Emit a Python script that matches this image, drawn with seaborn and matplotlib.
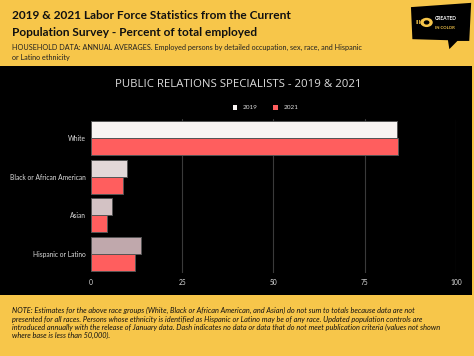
import matplotlib
matplotlib.use("Agg")
import matplotlib.pyplot as plt
import numpy as np
import pandas as pd
import seaborn as sns
from matplotlib.patches import Rectangle, Polygon, Circle

# ── data (percent of total employed, public relations specialists) ───────────
CATEGORIES = ["White", "Black or African American", "Asian", "Hispanic or Latino"]
YEARS = ["2019", "2021"]
VALUES_2019 = [83.9, 9.9, 5.8, 13.6]
VALUES_2021 = [84.0, 8.9, 4.5, 12.0]
X_TICKS = [0, 25, 50, 75, 100]

# ── colours ───────────────────────────────────────────────────────────────────
YELLOW = "#F7C64A"
BLACK = "#000000"
RED = "#FF5E5E"
SHADES_2019 = ["#F8F4F2", "#E2D8D8", "#D3C2C4", "#C0A8AC"]
GRID = "#3a3a3a"
TXT = "#DDDDDD"

sns.set_theme(style="dark")
plt.rcParams["font.family"] = ["Lato", "DejaVu Sans"]

df = pd.DataFrame({
    "group": CATEGORIES * 2,
    "year": [YEARS[0]] * len(CATEGORIES) + [YEARS[1]] * len(CATEGORIES),
    "value": VALUES_2019 + VALUES_2021,
})

fig = plt.figure(figsize=(4.74, 3.56), dpi=100)
fig.patch.set_facecolor(YELLOW)

# black chart panel (behind the axes)
fig.patches.append(Rectangle((0, 0.171), 0.996, 0.643, transform=fig.transFigure,
                             facecolor=BLACK, edgecolor="none", zorder=-5))

ax = fig.add_axes([0.192, 0.233, 0.770, 0.433])
ax.set_facecolor(BLACK)

sns.barplot(data=df, y="group", x="value", hue="year", orient="h",
            order=CATEGORIES, hue_order=YEARS,
            palette={YEARS[0]: SHADES_2019[0], YEARS[1]: RED},
            width=0.88, saturation=1, edgecolor="#555555", linewidth=0.7,
            legend=False, ax=ax, zorder=3)
for patch, col in zip(ax.containers[0], SHADES_2019):
    patch.set_facecolor(col)

ax.set_xlim(0, 100)
ax.set_ylim(3.5, -0.5)
ax.set_xticks(X_TICKS)
ax.set_xticklabels([str(t) for t in X_TICKS])
ax.set_xlabel("")
ax.set_ylabel("")
ax.grid(False)
for t in X_TICKS[1:]:
    ax.axvline(t, color=GRID, lw=0.8, zorder=1)
for s in ax.spines.values():
    s.set_visible(False)
ax.tick_params(axis="x", colors=TXT, labelsize=4.8, length=0, pad=4)
ax.tick_params(axis="y", colors=TXT, labelsize=4.8, length=0, pad=4)

# chart title + legend
fig.text(0.502, 0.762, "PUBLIC RELATIONS SPECIALISTS - 2019 & 2021",
         ha="center", va="center", color=TXT, fontsize=8.2,
         family=["Open Sans", "DejaVu Sans"])
for xs, lab, col in [(0.496, "2019", SHADES_2019[0]), (0.582, "2021", RED)]:
    fig.patches.append(Rectangle((xs - 0.005, 0.691), 0.010, 0.013,
                                 transform=fig.transFigure, facecolor=col,
                                 edgecolor="none"))
    fig.text(xs + 0.016, 0.698, lab, ha="left", va="center", color=TXT, fontsize=4.6)

# header
fig.text(0.025, 0.957, "2019 & 2021 Labor Force Statistics from the Current",
         ha="left", va="center", fontsize=8.6, fontweight="bold", color="#111111")
fig.text(0.025, 0.908, "Population Survey - Percent of total employed",
         ha="left", va="center", fontsize=8.6, fontweight="bold", color="#111111")
fig.text(0.025, 0.868, "HOUSEHOLD DATA: ANNUAL AVERAGES. Employed persons by detailed "
         "occupation, sex, race, and Hispanic",
         ha="left", va="center", fontsize=5.2, color="#222222")
fig.text(0.025, 0.838, "or Latino ethnicity",
         ha="left", va="center", fontsize=5.2, color="#222222")

# logo (speech bubble)
bubble = Polygon([(0.867, 0.980), (0.994, 0.992), (0.990, 0.885), (0.965, 0.885),
                  (0.948, 0.862), (0.945, 0.887), (0.870, 0.890)],
                 closed=True, transform=fig.transFigure, facecolor=BLACK,
                 edgecolor="none")
fig.patches.append(bubble)
fig.patches.append(Circle((0.900, 0.937), 0.013, transform=fig.transFigure,
                          facecolor=YELLOW, edgecolor="none"))
fig.patches.append(Circle((0.900, 0.937), 0.006, transform=fig.transFigure,
                          facecolor=BLACK, edgecolor="none"))
fig.text(0.876, 0.937, "III(", ha="left", va="center", fontsize=4.5,
         color=YELLOW, fontweight="bold")
fig.text(0.918, 0.948, "CREATED", ha="left", va="center", fontsize=3.6,
         color="white", fontweight="bold")
fig.text(0.918, 0.922, "IN COLOR", ha="left", va="center", fontsize=3.0,
         color=YELLOW, fontweight="bold")

# note
note = ("NOTE: Estimates for the above race groups (White, Black or African American, and Asian) "
        "do not sum to totals because data are not\n"
        "presented for all races. Persons whose ethnicity is identified as Hispanic or Latino may "
        "be of any race. Updated population controls are\n"
        "introduced annually with the release of January data. Dash indicates no data or data "
        "that do not meet publication criteria (values not shown\n"
        "where base is less than 50,000).")
fig.text(0.025, 0.047, note, ha="left", va="bottom", fontsize=5.3, style="italic",
         color="#111111", linespacing=1.2)

fig.savefig("out.png", dpi=100, facecolor=YELLOW)
